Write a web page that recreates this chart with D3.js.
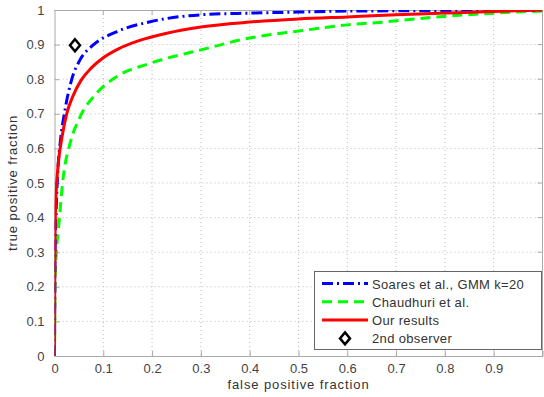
<!DOCTYPE html>
<html>
<head>
<meta charset="utf-8">
<script src="https://cdn.jsdelivr.net/npm/d3@7"></script>
<style>
  body { margin: 0; background: #fff; }
  text { font-family: "Liberation Sans", Arial, sans-serif; }
</style>
</head>
<body>
<div id="chart"></div>
<script>
// ROC curves
var redX = [0, 0.0005, 0.001, 0.002, 0.0045, 0.008, 0.015, 0.025, 0.038, 0.055, 0.075, 0.1, 0.13, 0.17, 0.23, 0.3, 0.4, 0.5, 0.6, 0.7, 0.8, 0.9, 1]
var redY = [0, 0.2, 0.32, 0.42, 0.5, 0.56, 0.63, 0.7, 0.752, 0.798, 0.832, 0.862, 0.887, 0.91, 0.933, 0.951, 0.965, 0.974, 0.98, 0.986, 0.991, 0.996, 1]

var blueX = [0, 0.0005, 0.001, 0.003, 0.007, 0.012, 0.0215, 0.035, 0.052, 0.0795, 0.127, 0.196, 0.298, 0.4, 0.5, 0.6, 0.8, 1]
var blueY = [0, 0.18, 0.28, 0.4, 0.54, 0.62, 0.711, 0.798, 0.855, 0.899, 0.937, 0.966, 0.986, 0.991, 0.994, 0.997, 0.998, 1]

var greenX = [0, 0.0005, 0.001, 0.003, 0.008, 0.018, 0.032, 0.052, 0.086, 0.127, 0.196, 0.298, 0.4, 0.5, 0.6, 0.673, 0.745, 0.82, 0.892, 0.96, 1]
var greenY = [0, 0.12, 0.2, 0.28, 0.364, 0.518, 0.615, 0.69, 0.759, 0.807, 0.846, 0.884, 0.919, 0.939, 0.957, 0.965, 0.975, 0.984, 0.99, 0.995, 0.997]

var observer = [0.042, 0.898]

var xTicks = [0, 0.1, 0.2, 0.3, 0.4, 0.5, 0.6, 0.7, 0.8, 0.9]
var yTicks = [0, 0.1, 0.2, 0.3, 0.4, 0.5, 0.6, 0.7, 0.8, 0.9, 1]

var legendNames = ["Soares et al., GMM k=20", "Chaudhuri et al.", "Our results", "2nd observer"]

var width = 544, height = 397
var margin = {top: 10, right: 1.5, bottom: 41, left: 54.5}
var w = width - margin.left - margin.right
var h = height - margin.top - margin.bottom

var svg = d3.select("#chart").append("svg")
  .attr("width", width)
  .attr("height", height)

var g = svg.append("g")
  .attr("transform", "translate(" + margin.left + "," + margin.top + ")")

var x = d3.scaleLinear().domain([0, 1]).range([0, w])
var y = d3.scaleLinear().domain([0, 1]).range([h, 0])

// grid
g.append("g").selectAll("line")
  .data(xTicks.filter(d => d > 0))
  .enter().append("line")
  .attr("x1", d => x(d)).attr("x2", d => x(d))
  .attr("y1", 0).attr("y2", h)
  .style("stroke", "#bbb").style("stroke-dasharray", "1,3")

g.append("g").selectAll("line")
  .data(yTicks.filter(d => d > 0 && d < 1))
  .enter().append("line")
  .attr("x1", 0).attr("x2", w)
  .attr("y1", d => y(d)).attr("y2", d => y(d))
  .style("stroke", "#bbb").style("stroke-dasharray", "1,3")

// axes
var xAxis = d3.axisBottom(x).tickValues(xTicks).tickSize(-5).tickPadding(8)
  .tickFormat(d => d === 0 ? "0" : d3.format(".1f")(d))
var yAxis = d3.axisLeft(y).tickValues(yTicks).tickSize(-5).tickPadding(10)
  .tickFormat(d => (d === 0 || d === 1) ? String(d) : d3.format(".1f")(d))

g.append("g").attr("class", "x_axis")
  .attr("transform", "translate(0," + h + ")")
  .call(xAxis)
g.append("g").attr("class", "y_axis")
  .call(yAxis)

g.selectAll(".x_axis, .y_axis").selectAll("path, line").style("stroke", "#aaa")
g.selectAll(".x_axis, .y_axis").selectAll("text")
  .style("font-size", "13px").style("fill", "#444")

// top and right box edges with ticks
g.append("line").attr("x1", 0).attr("x2", w).attr("y1", 0.5).attr("y2", 0.5).style("stroke", "#aaa")
g.append("line").attr("x1", w).attr("x2", w).attr("y1", 0).attr("y2", h).style("stroke", "#aaa")
g.append("g").selectAll("line")
  .data(xTicks.filter(d => d > 0))
  .enter().append("line")
  .attr("x1", d => x(d)).attr("x2", d => x(d))
  .attr("y1", 0).attr("y2", 5)
  .style("stroke", "#aaa")
g.append("g").selectAll("line")
  .data(yTicks.filter(d => d > 0 && d < 1))
  .enter().append("line")
  .attr("x1", w - 5).attr("x2", w)
  .attr("y1", d => y(d)).attr("y2", d => y(d))
  .style("stroke", "#aaa")

// curves
svg.append("clipPath").attr("id", "clip")
  .append("rect").attr("x", 0).attr("y", 0).attr("width", w).attr("height", h)

var line = d3.line()
  .x(d => x(d[0]))
  .y(d => y(d[1]))
  .curve(d3.curveMonotoneX)

var curves = g.append("g").attr("clip-path", "url(#clip)")

curves.append("path")
  .datum(d3.zip(greenX, greenY))
  .attr("d", line)
  .style("fill", "none").style("stroke", "#00ff00")
  .style("stroke-width", 3).style("stroke-dasharray", "10,6")

curves.append("path")
  .datum(d3.zip(blueX, blueY))
  .attr("d", line)
  .style("fill", "none").style("stroke", "#0000ff")
  .style("stroke-width", 3).style("stroke-dasharray", "11,4,2,4")

curves.append("path")
  .datum(d3.zip(redX, redY))
  .attr("d", line)
  .style("fill", "none").style("stroke", "#ff0000")
  .style("stroke-width", 3)

var diamond = "M0,-6L5,0L0,6L-5,0Z"

g.append("path")
  .attr("d", diamond)
  .attr("transform", "translate(" + x(observer[0]) + "," + y(observer[1]) + ")")
  .style("fill", "#fff").style("stroke", "#000").style("stroke-width", 2.5)

// axis labels
svg.append("text")
  .attr("x", margin.left + w / 2).attr("y", 389)
  .attr("text-anchor", "middle")
  .style("font-size", "13px").style("fill", "#333").style("letter-spacing", "0.9px")
  .text("false positive fraction")

svg.append("text")
  .attr("transform", "translate(17," + (margin.top + h / 2) + ") rotate(-90)")
  .attr("text-anchor", "middle")
  .style("font-size", "13px").style("fill", "#333").style("letter-spacing", "0.9px")
  .text("true positive fraction")

// legend
var legend = svg.append("g").attr("transform", "translate(314,271)")
legend.append("rect")
  .attr("x", 0.5).attr("y", 0.5).attr("width", 227).attr("height", 78)
  .style("fill", "#fff").style("stroke", "#666")

var styles = [
  {color: "#0000ff", dash: "11,4,2,4"},
  {color: "#00ff00", dash: "10,6"},
  {color: "#ff0000", dash: null}
]

legend.selectAll(".entry")
  .data(legendNames)
  .enter().append("g")
  .attr("class", "entry")
  .attr("transform", (d, i) => "translate(0," + (12.5 + i * 18.3) + ")")
  .each(function(d, i) {
    var e = d3.select(this)
    if (i < 3) {
      e.append("line")
        .attr("x1", 8).attr("x2", 54).attr("y1", 0).attr("y2", 0)
        .style("stroke", styles[i].color).style("stroke-width", 3)
        .style("stroke-dasharray", styles[i].dash)
    } else {
      e.append("path").attr("d", diamond).attr("transform", "translate(31,0)")
        .style("fill", "#fff").style("stroke", "#000").style("stroke-width", 2.5)
    }
    e.append("text").attr("x", 58).attr("y", 5)
      .style("font-size", "13px").style("fill", "#333").style("letter-spacing", "0.35px")
      .text(d)
  })
</script>
</body>
</html>
